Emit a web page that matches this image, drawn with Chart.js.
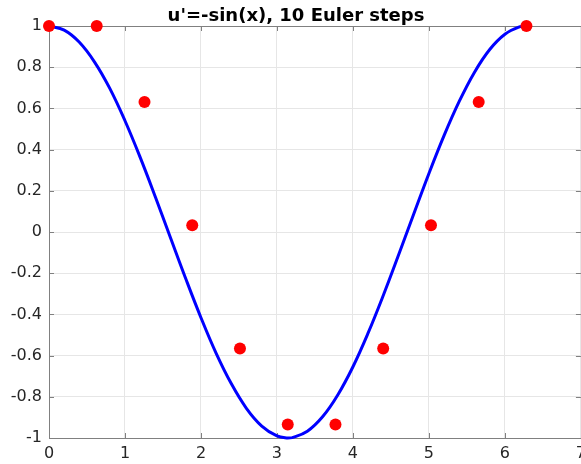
<!DOCTYPE html>
<html>
<head>
<meta charset="utf-8">
<script src="https://cdn.jsdelivr.net/npm/chart.js@4"></script>
<style>
  html, body { margin: 0; padding: 0; background: #fff; overflow: hidden; }
  #wrap { width: 592px; height: 464px; }
</style>
</head>
<body>
<div id="wrap"><canvas id="chart" width="592" height="464"></canvas></div>
<script>
// exact solution u = cos(x), sampled
const curveX = [0, 0.2, 0.4, 0.6, 0.8, 1.0, 1.2, 1.4, 1.6, 1.8, 2.0, 2.2, 2.4, 2.6, 2.8, 3.0, 3.1416,
  3.2, 3.4, 3.6, 3.8, 4.0, 4.2, 4.4, 4.6, 4.8, 5.0, 5.2, 5.4, 5.6, 5.8, 6.0, 6.2, 6.2832];
const curveY = [1.000, 0.980, 0.921, 0.825, 0.697, 0.540, 0.362, 0.170, -0.029, -0.227, -0.416, -0.589,
  -0.737, -0.857, -0.942, -0.990, -1.000, -0.998, -0.967, -0.897, -0.791, -0.654, -0.490, -0.307,
  -0.112, 0.087, 0.284, 0.469, 0.635, 0.776, 0.886, 0.960, 0.997, 1.000];

// Euler steps
const eulerX = [0, 0.628, 1.257, 1.885, 2.513, 3.142, 3.770, 4.398, 5.027, 5.655, 6.283];
const eulerY = [1.000, 1.000, 0.631, 0.033, -0.565, -0.934, -0.934, -0.565, 0.033, 0.631, 1.000];

const xTicks = [0, 1, 2, 3, 4, 5, 6, 7];
const yTicks = [-1, -0.8, -0.6, -0.4, -0.2, 0, 0.2, 0.4, 0.6, 0.8, 1];

const titleText = "u'=-sin(x), 10 Euler steps";

const FONT = "'DejaVu Sans', sans-serif";
const AXIS = '#808080';

// box around the plot area + inward ticks on all four sides
const boxPlugin = {
  id: 'box',
  beforeDatasetsDraw(chart) {
    const { ctx, chartArea: a, scales } = chart;
    const len = 5;
    ctx.save();
    ctx.strokeStyle = AXIS;
    ctx.lineWidth = 1;
    ctx.beginPath();
    xTicks.forEach(v => {
      const px = Math.round(scales.x.getPixelForValue(v)) + 0.5;
      ctx.moveTo(px, a.bottom); ctx.lineTo(px, a.bottom - len);
      ctx.moveTo(px, a.top); ctx.lineTo(px, a.top + len);
    });
    yTicks.forEach(v => {
      const py = Math.round(scales.y.getPixelForValue(v)) + 0.5;
      ctx.moveTo(a.left, py); ctx.lineTo(a.left + len, py);
      ctx.moveTo(a.right, py); ctx.lineTo(a.right - len, py);
    });
    ctx.stroke();
    ctx.strokeRect(Math.round(a.left) + 0.5, Math.round(a.top) + 0.5,
      Math.round(a.right - a.left), Math.round(a.bottom - a.top));
    ctx.restore();
  }
};

new Chart(document.getElementById('chart'), {
  type: 'scatter',
  data: {
    datasets: [
      {
        label: 'euler',
        data: eulerX.map((x, i) => ({ x, y: eulerY[i] })),
        showLine: false,
        pointRadius: 6,
        pointHoverRadius: 6,
        pointBackgroundColor: '#ff0000',
        pointBorderWidth: 0,
        clip: false,
        order: 0
      },
      {
        label: 'cos',
        data: curveX.map((x, i) => ({ x, y: curveY[i] })),
        showLine: true,
        borderColor: '#0000ff',
        borderWidth: 3,
        pointRadius: 0,
        tension: 0.4,
        clip: false,
        order: 1
      }
    ]
  },
  options: {
    responsive: false,
    animation: false,
    events: [],
    layout: { padding: { left: 0, right: 0, top: 0, bottom: 0 } },
    plugins: {
      legend: { display: false },
      tooltip: { enabled: false },
      title: {
        display: true,
        text: titleText,
        color: '#000',
        font: { family: FONT, size: 18, weight: 'bold', lineHeight: 1.1 },
        padding: { top: 6, bottom: 0.2 }
      }
    },
    scales: {
      x: {
        type: 'linear',
        min: 0, max: 7,
        afterBuildTicks: s => { s.ticks = xTicks.map(v => ({ value: v })); },
        afterFit: s => { s.height = 26; },
        grid: { color: '#e6e6e6', drawTicks: false },
        border: { display: false },
        ticks: { color: '#262626', padding: 6, font: { family: FONT, size: 16 }, callback: v => String(v) }
      },
      y: {
        type: 'linear',
        min: -1, max: 1,
        afterBuildTicks: s => { s.ticks = yTicks.map(v => ({ value: v })); },
        afterFit: s => { s.width = 49; },
        grid: { color: '#e6e6e6', drawTicks: false },
        border: { display: false },
        ticks: { color: '#262626', padding: 7, font: { family: FONT, size: 16 }, callback: v => String(v) }
      }
    }
  },
  plugins: [boxPlugin]
});
</script>
</body>
</html>
